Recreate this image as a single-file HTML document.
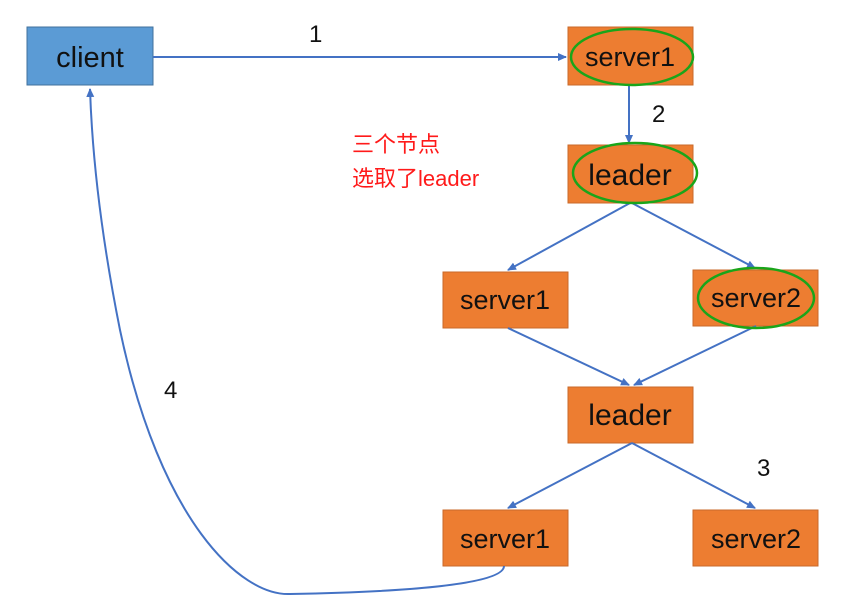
<!DOCTYPE html>
<html><head><meta charset="utf-8"><style>
html,body{margin:0;padding:0;background:#fff;}
svg{display:block;}
text{font-family:"Liberation Sans","Noto Sans CJK SC",sans-serif;}
</style></head><body>
<svg width="864" height="607" viewBox="0 0 864 607" xmlns="http://www.w3.org/2000/svg">
<defs>
<marker id="a" markerWidth="10" markerHeight="10" refX="8" refY="5" orient="auto" markerUnits="userSpaceOnUse">
<path d="M0,1 L9,5 L0,9 Z" fill="#4472c4"/>
</marker>
</defs>
<g fill="#ed7d31" stroke="#c9692a" stroke-width="1">
<rect x="568" y="27" width="125" height="58"/>
<rect x="568" y="145" width="125" height="58"/>
<rect x="443" y="272" width="125" height="56"/>
<rect x="693" y="270" width="125" height="56"/>
<rect x="568" y="387" width="125" height="56"/>
<rect x="443" y="510" width="125" height="56"/>
<rect x="693" y="510" width="125" height="56"/>
</g>
<rect x="27" y="27" width="126" height="58" fill="#5b9bd5" stroke="#41719c"/>
<g stroke="#4472c4" stroke-width="2" fill="none">
<line x1="153" y1="57" x2="566" y2="57" marker-end="url(#a)"/>
<line x1="629" y1="85" x2="629" y2="143" marker-end="url(#a)"/>
<line x1="630" y1="203" x2="508" y2="270" marker-end="url(#a)"/>
<line x1="632" y1="203" x2="755" y2="268" marker-end="url(#a)"/>
<line x1="508" y1="328" x2="629" y2="385" marker-end="url(#a)"/>
<line x1="756" y1="326" x2="634" y2="385" marker-end="url(#a)"/>
<line x1="632" y1="443" x2="508" y2="508" marker-end="url(#a)"/>
<line x1="632" y1="443" x2="755" y2="508" marker-end="url(#a)"/>
<path d="M504,566 C504,585 400,592 290,594 C240,596 160,520 120,330 C100,230 92,150 90,89" marker-end="url(#a)"/>
</g>
<g fill="none" stroke="#1aa51a" stroke-width="2.5">
<ellipse cx="632" cy="57" rx="61" ry="28"/>
<ellipse cx="635" cy="173" rx="62" ry="30"/>
<ellipse cx="756" cy="298" rx="58" ry="30"/>
</g>
<g font-size="27" fill="#111" text-anchor="middle">
<text x="90" y="67" font-size="29">client</text>
<text x="630" y="66">server1</text>
<text x="630" y="185" font-size="30">leader</text>
<text x="505" y="309">server1</text>
<text x="756" y="307">server2</text>
<text x="630" y="425" font-size="30">leader</text>
<text x="505" y="548">server1</text>
<text x="756" y="548">server2</text>
</g>
<g font-size="24" fill="#111">
<text x="309" y="42">1</text>
<text x="652" y="122">2</text>
<text x="164" y="398">4</text>
<text x="757" y="476">3</text>
</g>
<g font-size="22" fill="#ff1a1a">
<text x="352" y="152">三个节点</text>
<text x="352" y="186">选取了leader</text>
</g>
</svg>
</body></html>
